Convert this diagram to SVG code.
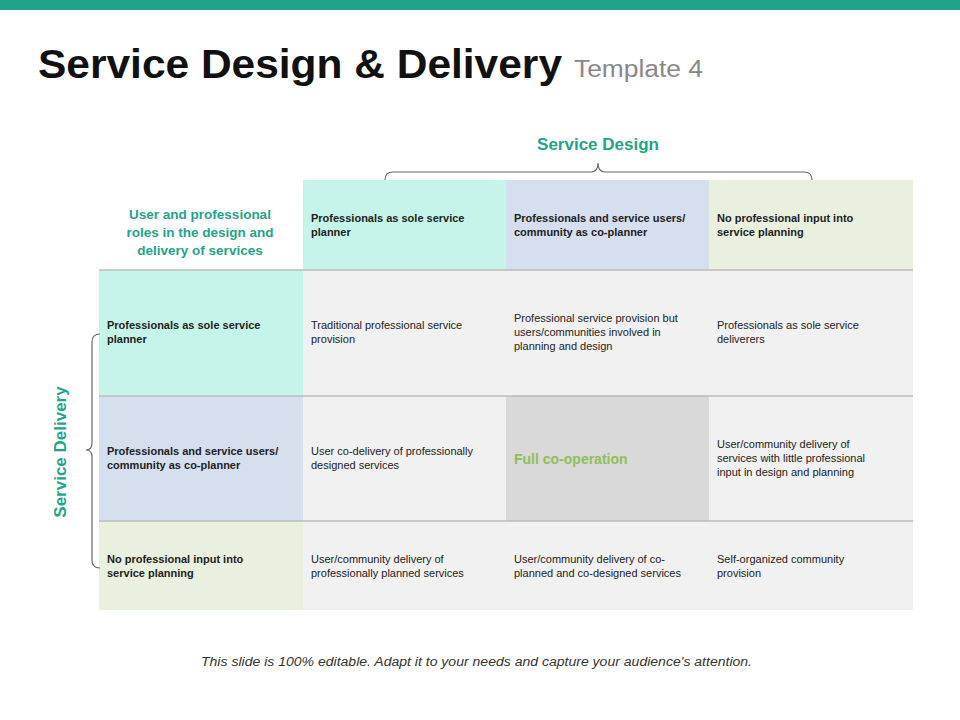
<svg xmlns="http://www.w3.org/2000/svg" width="960" height="720" viewBox="0 0 960 720">
<style>
.t{font-family:"Liberation Sans",Arial,sans-serif;font-size:11px;fill:#222}
.b{font-weight:bold}
.g{font-family:"Liberation Sans",Arial,sans-serif;fill:#1fa38a;font-weight:bold}
.ln{stroke:#bbb;stroke-width:1.5}
.br{fill:none;stroke:#666;stroke-width:1.2}
</style>
<rect width="960" height="720" fill="#fff"/>
<rect x="0" y="0" width="960" height="10" fill="#1fa38a"/>
<text x="38" y="78" font-family="'Liberation Sans',Arial,sans-serif" font-size="41" font-weight="bold" fill="#111" textLength="524" lengthAdjust="spacingAndGlyphs">Service Design &amp; Delivery</text>
<text x="574" y="77" font-family="'Liberation Sans',Arial,sans-serif" font-size="23" fill="#888" textLength="129" lengthAdjust="spacingAndGlyphs">Template 4</text>
<g id="cells">
<rect x="303" y="180" width="203" height="90" fill="#c5f5e8"/>
<rect x="506" y="180" width="203" height="90" fill="#d5dfee"/>
<rect x="709" y="180" width="204" height="90" fill="#e9f0de"/>
<rect x="99" y="270" width="204" height="126" fill="#c5f5e8"/>
<rect x="99" y="396" width="204" height="125" fill="#d5dfee"/>
<rect x="99" y="521" width="204" height="89" fill="#e9f0de"/>
<rect x="303" y="270" width="610" height="340" fill="#f1f1f1"/>
<rect x="506" y="396" width="203" height="125" fill="#d9d9d9"/>
</g>
<g id="lines">
<line class="ln" x1="99" y1="270" x2="913" y2="270"/>
<line class="ln" x1="99" y1="396" x2="913" y2="396"/>
<line class="ln" x1="99" y1="521" x2="913" y2="521"/>
<path class="br" d="M385,180 Q385,172 393,172 L591,172 Q598,172 598,163 Q598,172 605,172 L804,172 Q812,172 812,180"/>
<path class="br" d="M100,334 Q92,334 92,342 L92,443 Q92,450 86,450 Q92,450 92,457 L92,560 Q92,568 100,568"/>
</g>
<text class="g" x="598" y="150" font-size="17" text-anchor="middle">Service Design</text>
<text class="g" transform="translate(66,452) rotate(-90)" font-size="17" text-anchor="middle">Service Delivery</text>
<g class="g" font-size="13.5" text-anchor="middle"><text x="200" y="219">User and professional</text><text x="200" y="237">roles in the design and</text><text x="200" y="255">delivery of services</text></g>
<g class="t b">
<text x="311" y="222">Professionals as sole service</text><text x="311" y="236">planner</text>
<text x="514" y="222">Professionals and service users/</text><text x="514" y="236">community as co-planner</text>
<text x="717" y="222">No professional input into</text><text x="717" y="236">service planning</text>
<text x="107" y="329">Professionals as sole service</text><text x="107" y="343">planner</text>
<text x="107" y="455">Professionals and service users/</text><text x="107" y="469">community as co-planner</text>
<text x="107" y="563">No professional input into</text><text x="107" y="577">service planning</text>
</g>
<g class="t">
<text x="311" y="329">Traditional professional service</text><text x="311" y="343">provision</text>
<text x="514" y="322">Professional service provision but</text><text x="514" y="336">users/communities involved in</text><text x="514" y="350">planning and design</text>
<text x="717" y="329">Professionals as sole service</text><text x="717" y="343">deliverers</text>
<text x="311" y="455">User co-delivery of professionally</text><text x="311" y="469">designed services</text>
<text x="717" y="448">User/community delivery of</text><text x="717" y="462">services with little professional</text><text x="717" y="476">input in design and planning</text>
<text x="311" y="563">User/community delivery of</text><text x="311" y="577">professionally planned services</text>
<text x="514" y="563">User/community delivery of co-</text><text x="514" y="577">planned and co-designed services</text>
<text x="717" y="563">Self-organized community</text><text x="717" y="577">provision</text>
</g>
<text x="514" y="464" font-family="'Liberation Sans',Arial,sans-serif" font-size="14" font-weight="bold" fill="#8dc05a">Full co-operation</text>
<text x="201" y="666" font-family="'Liberation Sans',Arial,sans-serif" font-size="12.5" font-style="italic" fill="#333" textLength="551" lengthAdjust="spacingAndGlyphs">This slide is 100% editable. Adapt it to your needs and capture your audience's attention.</text>
</svg>
